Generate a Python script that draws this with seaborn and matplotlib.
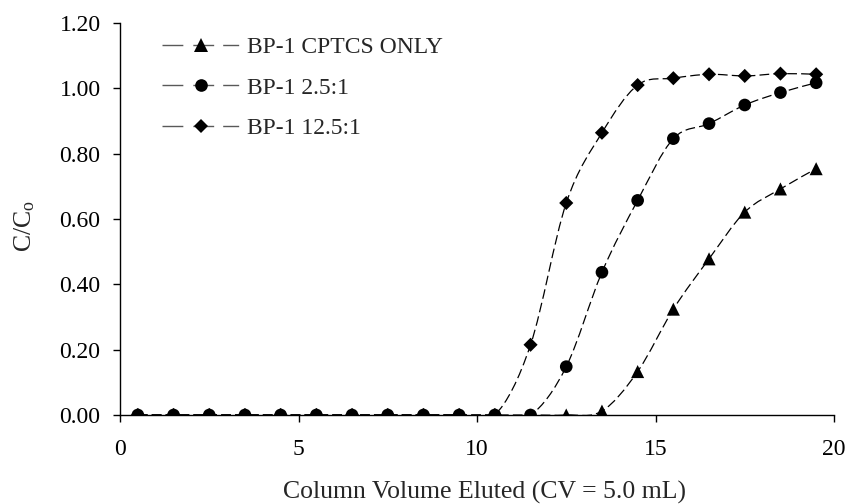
import numpy as np
import pandas as pd
import seaborn as sns
import matplotlib
matplotlib.use("Agg")
import matplotlib.pyplot as plt
from matplotlib.path import Path
from matplotlib.patches import PathPatch
from matplotlib.lines import Line2D

# Breakthrough data: column volumes eluted vs. C/Co
cv = [0.5, 1.5, 2.5, 3.5, 4.5, 5.5, 6.5, 7.5, 8.5, 9.5,
      10.5, 11.5, 12.5, 13.5, 14.5, 15.5, 16.5, 17.5, 18.5, 19.5]
cptcs_only = [0, 0, 0, 0, 0, 0, 0, 0, 0, 0,
              0, 0, 0, 0.012, 0.133, 0.324, 0.478, 0.621, 0.692, 0.754]
ratio_2_5 = [0, 0, 0, 0, 0, 0, 0, 0, 0, 0,
             0, 0, 0.148, 0.437, 0.657, 0.846, 0.892, 0.949, 0.987, 1.017]
ratio_12_5 = [0, 0, 0, 0, 0, 0, 0, 0, 0, 0,
              0, 0.215, 0.649, 0.864, 1.010, 1.031, 1.043, 1.038, 1.045, 1.043]

series_names = ["BP-1 CPTCS ONLY", "BP-1 2.5:1", "BP-1 12.5:1"]
series_values = [cptcs_only, ratio_2_5, ratio_12_5]
markers = ["^", "o", "D"]
marker_sizes = [9.4, 9.1, 7.2]  # points

x_ticks = [0, 5, 10, 15, 20]
y_ticks = [0.0, 0.2, 0.4, 0.6, 0.8, 1.0, 1.2]

df = pd.concat(
    [pd.DataFrame({"cv": cv, "c": v, "series": n}) for n, v in zip(series_names, series_values)],
    ignore_index=True,
)

sns.set_style("ticks")
plt.rcParams["font.family"] = ["Liberation Serif", "DejaVu Serif"]
plt.rcParams["mathtext.fontset"] = "custom"
plt.rcParams["mathtext.rm"] = "Liberation Serif"
plt.rcParams["mathtext.it"] = "Liberation Serif:italic"
plt.rcParams["lines.scale_dashes"] = False

FS = 17
FS_LABEL = 18.5
fig = plt.figure(figsize=(8.47, 5.04), dpi=100)
ax = fig.add_axes([120 / 847, 89 / 504, 714 / 847, 392 / 504])


def smooth_path(xs, ys):
    """Cubic Bezier path through the points (spreadsheet-style smoothing)."""
    pts = np.column_stack([xs, ys]).astype(float)
    n = len(pts)
    verts = [tuple(pts[0])]
    codes = [Path.MOVETO]
    for i in range(n - 1):
        p_prev = pts[i - 1] if i > 0 else pts[i]
        p0 = pts[i]
        p1 = pts[i + 1]
        p_next = pts[i + 2] if i + 2 < n else pts[i + 1]
        c1 = p0 + (p1 - p_prev) / 6.0
        c2 = p1 - (p_next - p0) / 6.0
        verts += [tuple(c1), tuple(c2), tuple(p1)]
        codes += [Path.CURVE4] * 3
    return Path(verts, codes)


# smoothed dashed curves
for vals in series_values:
    patch = PathPatch(smooth_path(cv, vals), fill=False, edgecolor="black",
                      linewidth=0.9, linestyle=(0, (7, 3)), zorder=2)
    ax.add_patch(patch)

# markers
for name, m, ms in zip(series_names, markers, marker_sizes):
    sub = df[df["series"] == name]
    sns.scatterplot(data=sub, x="cv", y="c", marker=m, s=ms ** 2, color="black",
                    edgecolor="none", linewidth=0, ax=ax, legend=False, zorder=3)

ax.set_xlim(0, 20)
ax.set_ylim(0, 1.2)
ax.set_xticks(x_ticks)
ax.set_yticks(y_ticks)
ax.set_xticklabels([str(t) for t in x_ticks])
ax.set_yticklabels([f"{t:.2f}" for t in y_ticks])
ax.tick_params(axis="both", direction="out", length=5, width=1, color="black",
               labelsize=FS, labelcolor="black")
ax.tick_params(axis="y", pad=9)
ax.tick_params(axis="x", pad=12)
for s in ["top", "right"]:
    ax.spines[s].set_visible(False)
for s in ["left", "bottom"]:
    ax.spines[s].set_color("black")
    ax.spines[s].set_linewidth(1)

ax.set_xlabel("Column Volume Eluted (CV = 5.0 mL)", fontsize=FS_LABEL)
ax.xaxis.set_label_coords(0.51, -0.168, transform=ax.transAxes)
ax.xaxis.label.set_va("top")
ax.set_ylabel(r"C/C$_\mathregular{o}$", fontsize=FS_LABEL)
ax.yaxis.set_label_coords(-0.133, 0.482, transform=ax.transAxes)
ax.yaxis.label.set_va("center")

handles = [
    Line2D([], [], color="0.35", linewidth=1, marker=m, markersize=ms,
           markerfacecolor="black", markeredgecolor="black", markeredgewidth=0,
           linestyle=(0, (15, 7.2, 15, 6.5, 11.5, 5)))
    for m, ms in zip(markers, marker_sizes)
]
ax.legend(handles, series_names, loc="upper left", bbox_to_anchor=(0.0588, 0.965),
          frameon=False, fontsize=FS, handlelength=3.3, handletextpad=0.3,
          labelspacing=0.8, borderpad=0, borderaxespad=0)

fig.savefig("out.png", dpi=100)
